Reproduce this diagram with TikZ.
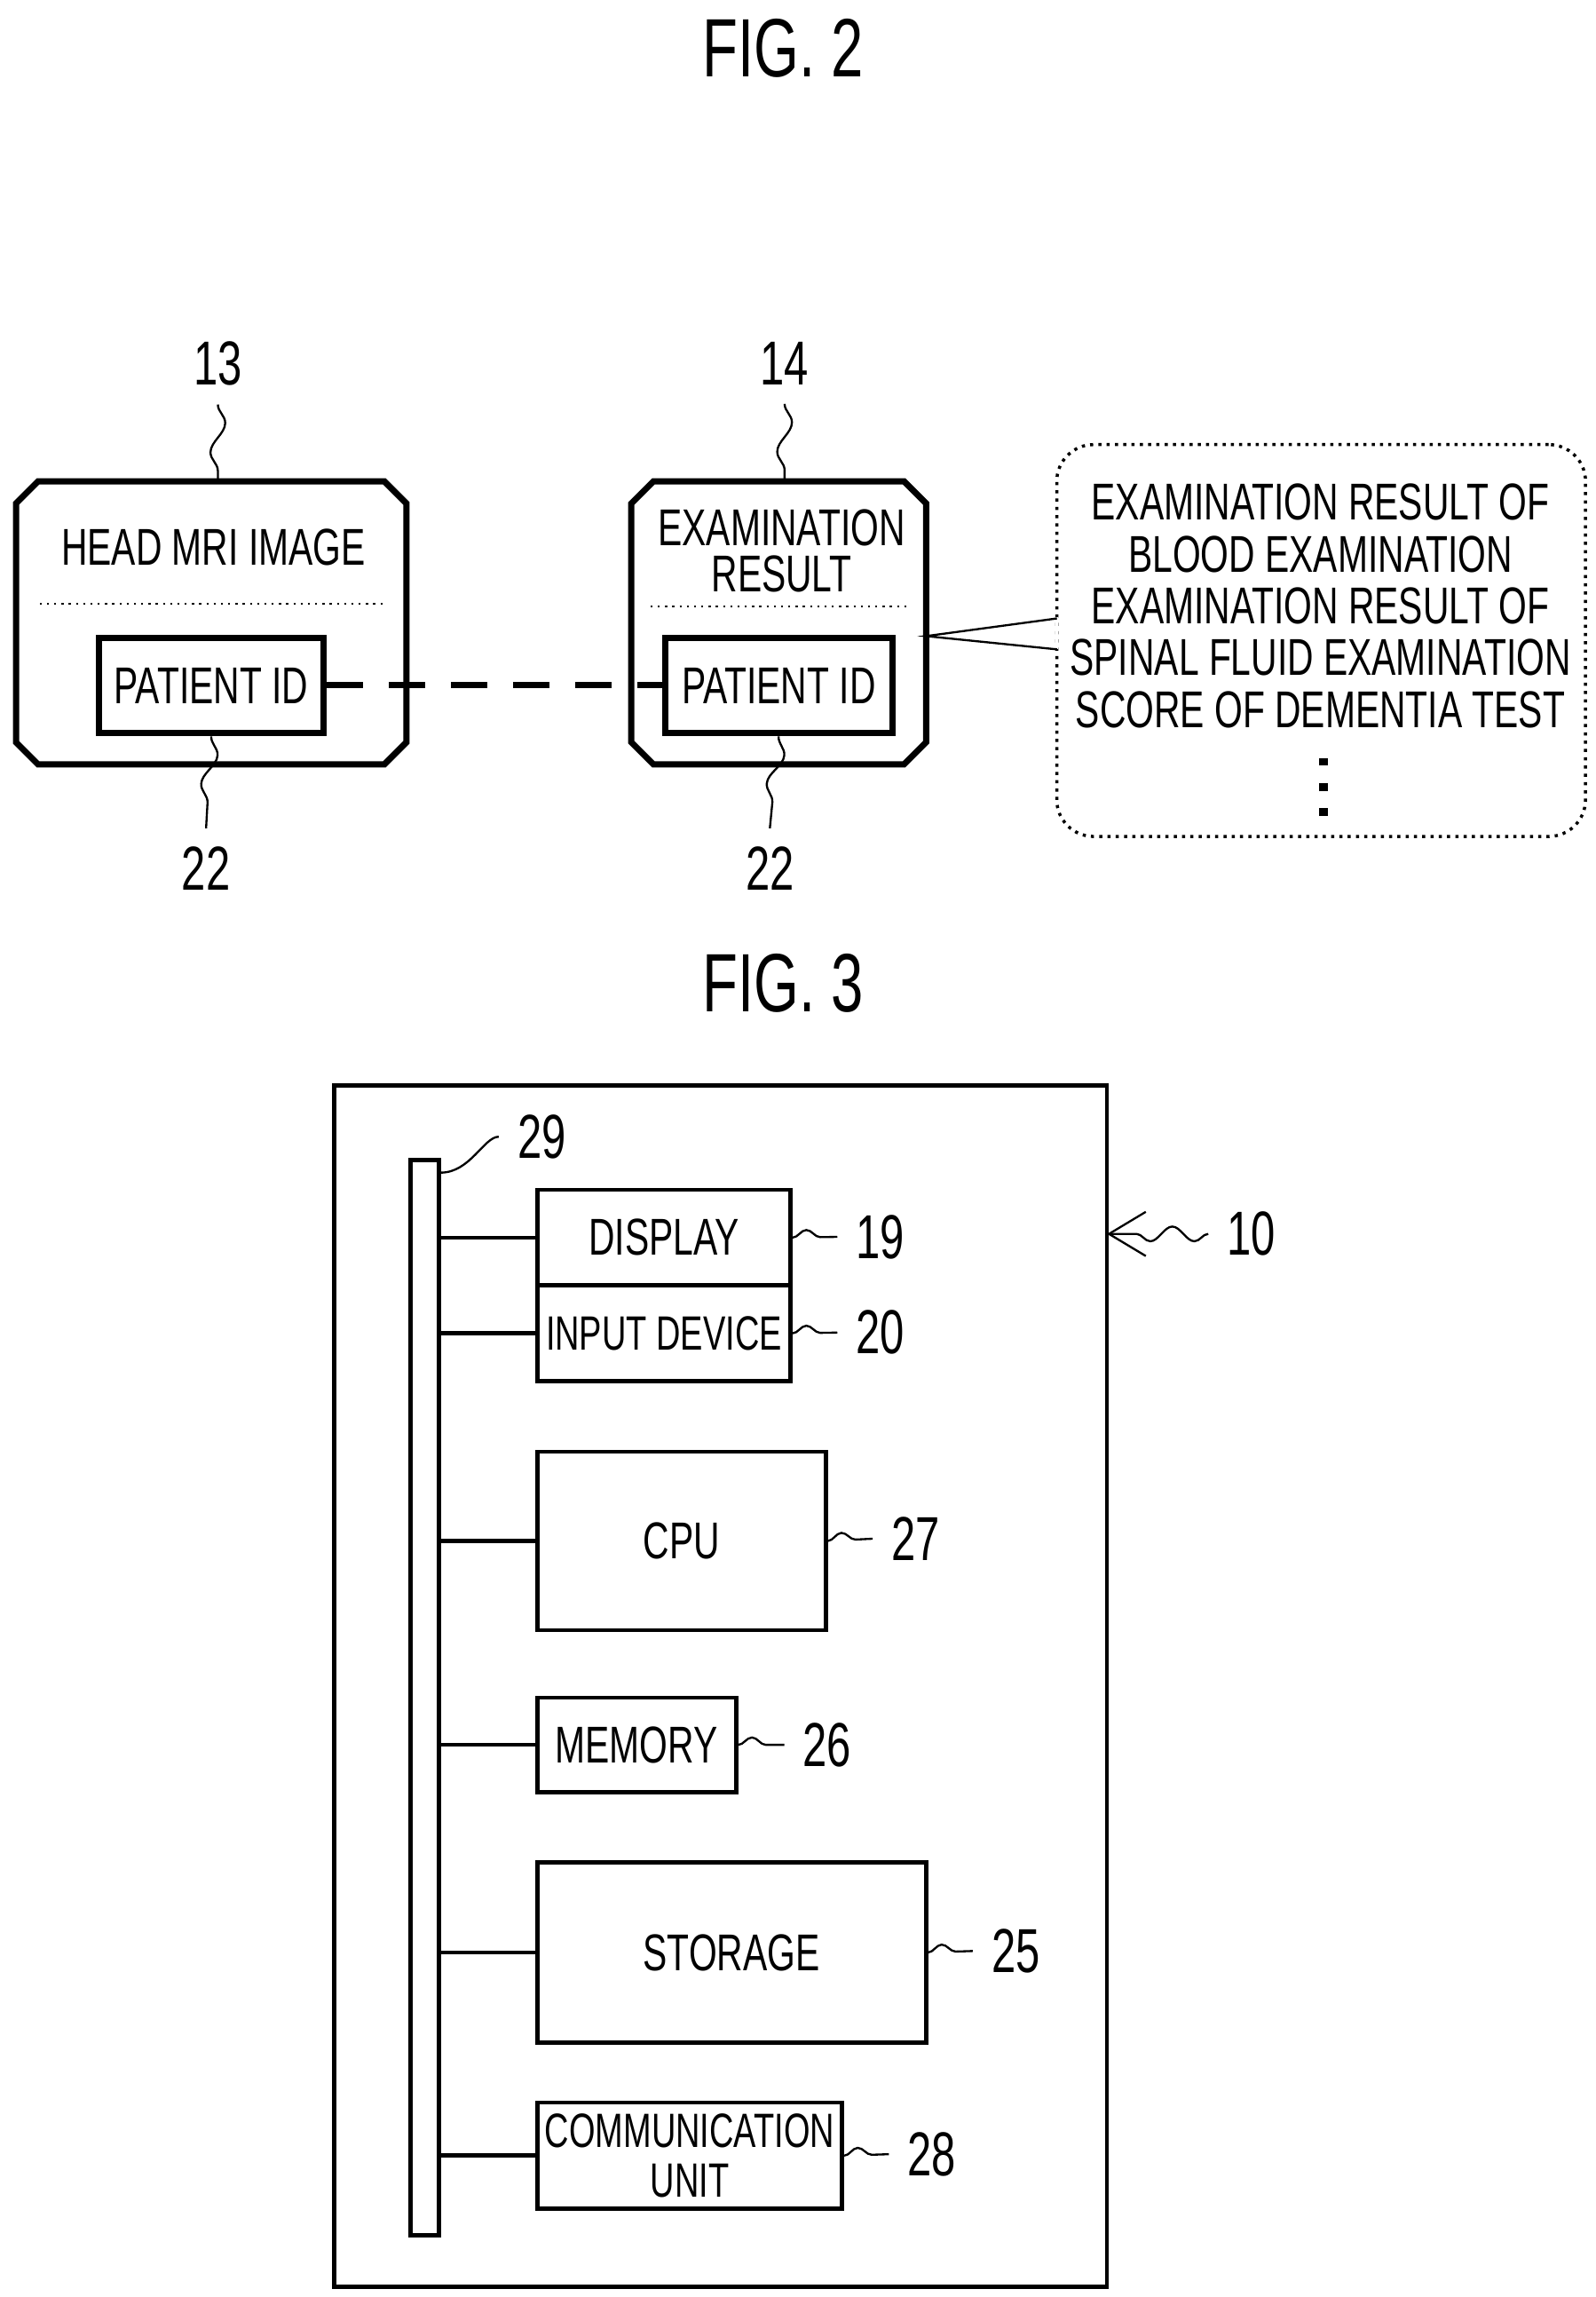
\documentclass[tikz,border=0pt]{standalone}
\usepackage{fontspec}
\setmainfont{Liberation Sans}[FakeStretch=0.7]
\usetikzlibrary{calc, decorations.pathmorphing, arrows.meta}

\begin{document}
\begin{tikzpicture}[x = 0.01cm, y = -0.01cm, % reference pixels
                semithick, font = \fontsize{10}{11}\selectfont
            ]

            \tikzset{record/.style = {inner sep = 0pt},
            idbox/.style = {draw, very thick, inner sep = 0pt},
            unit/.style = {draw, thick, inner sep = 0pt, align = center},
            small/.style = {font = \fontsize{9.3}{9.6}\selectfont},
            lead/.style = {thin, decorate, decoration = {snake, amplitude = 0.5mm,
              segment length = 4mm}},
            num/.style = {font = \fontsize{12}{13}\selectfont},
            fig/.style = {font = \fontsize{16}{18}\selectfont}}

            % octagon outline round a named node
            \newcommand{\chamf}[1]{\draw[very thick] ($(#1.north west)+(15,0)$) -- ($(#1.north east)+(-15,0)$)
              -- ($(#1.north east)+(0,15)$) -- ($(#1.south east)+(0,-15)$) -- ($(#1.south east)+(-15,0)$)
              -- ($(#1.south west)+(15,0)$) -- ($(#1.south west)+(0,-15)$) -- ($(#1.north west)+(0,15)$) -- cycle;}

            \useasboundingbox (0,0) rectangle (1084,1560);

            % FIG. 2
            \node[fig] (fig2) at (532,33) {FIG. 2};

            \node[record, minimum width = 2.63cm, minimum height = 1.9cm] (mri) at (143.5,423) {};
            \chamf{mri}
            \node (mrit) at (145,372) {HEAD MRI IMAGE};
            \draw[thin, densely dotted] (27,410) -- (262,410);
            \node[idbox, minimum width = 1.53cm, minimum height = 0.65cm] (id1) at (143.5,465.5) {PATIENT ID};

            \node[record, minimum width = 1.98cm, minimum height = 1.9cm] (exam) at (529,423) {};
            \chamf{exam}
            \node[align = center] (examt) at (531,374) {EXAMINATION\\[-2pt]RESULT};
            \draw[thin, densely dotted] (442,412) -- (618,412);
            \node[idbox, minimum width = 1.54cm, minimum height = 0.65cm] (id2) at (529,465.5) {PATIENT ID};

            \draw[very thick, dash pattern = on 7pt off 5pt] (id1.east) -- (id2.west);

            \node[draw, densely dotted, rounded corners = 0.25cm, minimum width = 3.59cm,
              minimum height = 2.66cm] (note) at (897.5,435) {};
            \fill[white] (719,419) rectangle (717,441);
            \coordinate (tip) at (exam.east |- 0,432);
            \draw[thin] (718,420) -- (tip) -- (718,441);
            \node[align = center, anchor = north] (notet) at (897,316)
              {EXAMINATION RESULT OF\\[-1pt]BLOOD EXAMINATION\\[-1pt]EXAMINATION RESULT OF\\[-1pt]SPINAL FLUID EXAMINATION\\[-1pt]SCORE OF DEMENTIA TEST};
            \foreach \y in {515,532,549} \fill (896,\y) rectangle (902,\y+5);

            \node[num] (n13) at (148,247) {13};
            \node[num] (n14) at (533,247) {14};
            \node[num] (n22a) at (140,590) {22};
            \node[num] (n22b) at (523,590) {22};
            \draw[lead] (n13.south) -- (mri.north -| n13.south);
            \draw[lead] (n14.south) -- (exam.north -| n14.south);
            \draw[lead] (id1.south) -- (n22a.north);
            \draw[lead] (id2.south) -- (n22b.north);

            % FIG. 3
            \node[fig] (fig3) at (532,668) {FIG. 3};
            \draw[thick] (227,737) rectangle (752,1553);
            \coordinate (outer) at (752,838);
            \node[unit, minimum width = 0.19cm, minimum height = 7.3cm] (bus) at (288.5,1153) {};

            \node[unit, minimum width = 1.72cm, minimum height = 0.65cm] (disp) at (451,840.5) {DISPLAY};
            \node[unit, small, minimum width = 1.72cm, minimum height = 0.65cm] (inp) at (451,905.5) {INPUT DEVICE};
            \node[unit, minimum width = 1.96cm, minimum height = 1.21cm] (cpu) at (463,1046.5) {CPU};
            \node[unit, minimum width = 1.35cm, minimum height = 0.64cm] (mem) at (432.5,1185) {MEMORY};
            \node[unit, minimum width = 2.64cm, minimum height = 1.22cm] (stor) at (497,1326) {STORAGE};
            \node[unit, small, minimum width = 2.07cm, minimum height = 0.72cm] (comm) at (468.5,1464) {COMMUNICATION\\UNIT};

            \foreach \b in {disp, inp, cpu, mem, stor, comm}
              \draw[thick] (bus.east |- \b.west) -- (\b.west);

            \node[num] (n29) at (368,772) {29};
            \node[num] (n19) at (598,840) {19};
            \node[num] (n20) at (598,905) {20};
            \node[num] (n27) at (622,1045) {27};
            \node[num] (n26) at (562,1185) {26};
            \node[num] (n25) at (690,1325) {25};
            \node[num] (n28) at (633,1463) {28};
            \node[num] (n10) at (850,838) {10};

            \draw[thin] (bus.north east) ++(0,10) .. controls +(20,0) and +(-10,0) .. (n29.west);
            \foreach \b/\n in {disp/n19, inp/n20, cpu/n27, mem/n26, stor/n25, comm/n28}
              \draw[lead, segment length = 3mm] (\b.east) -- (\n.west);
            \draw[thin, decorate, decoration = {snake, amplitude = 0.5mm, segment length = 3mm,
              post length = 2mm}, -{Straight Barb[length = 2.5mm, width = 3mm]}] (n10.west) -- (outer);
        \end{tikzpicture}
\end{document}
